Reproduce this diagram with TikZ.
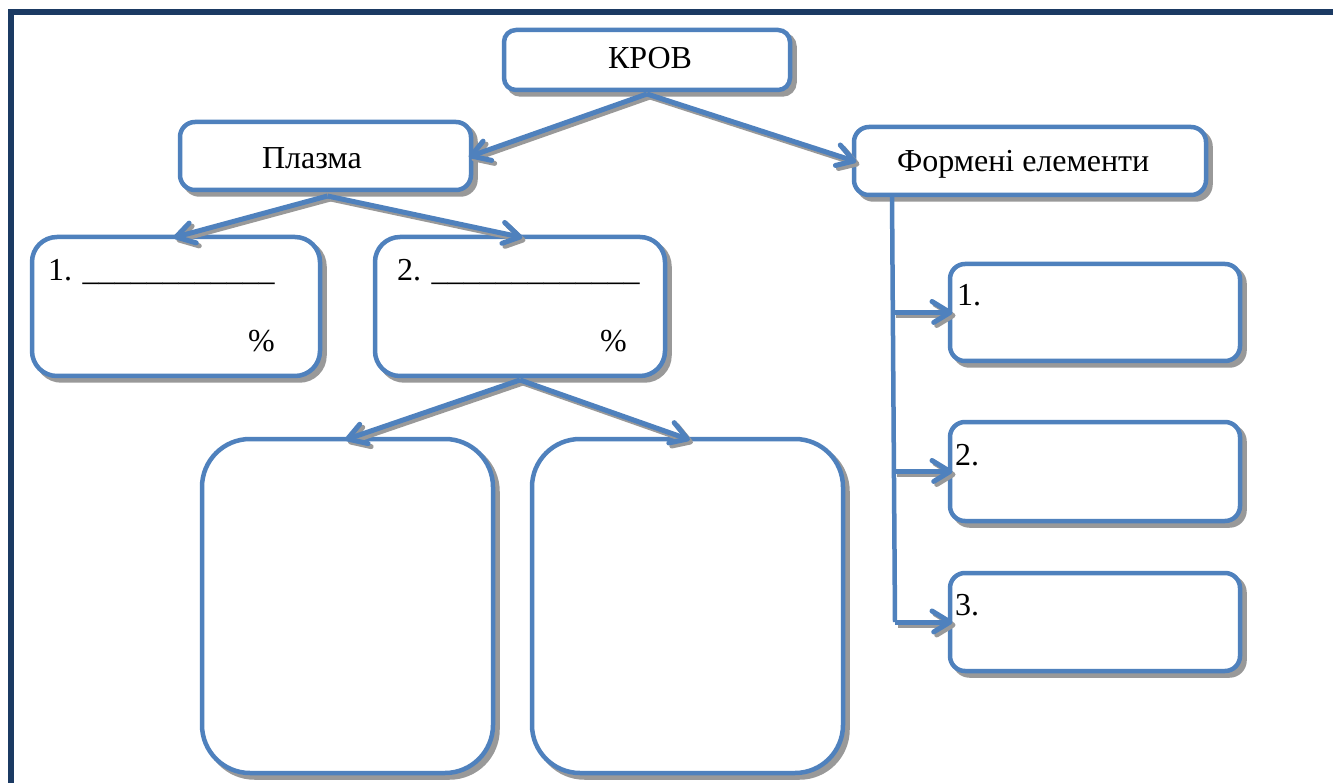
\documentclass[tikz,border=0pt]{standalone}
\usepackage{fontspec}
\setmainfont{Liberation Serif}
\usetikzlibrary{calc,decorations.markings}
\definecolor{boxblue}{HTML}{4F81BD}
\definecolor{shade}{HTML}{999999}
\definecolor{framecol}{HTML}{1B3A63}
\tikzset{
  box/.style={draw=boxblue, line width=4.5pt, fill=white, rounded corners=#1,
    inner sep=0pt, outer sep=0pt,
    preaction={draw=shade, fill=shade, transform canvas={xshift=4.5pt,yshift=-4.5pt}}},
  txt/.style={inner sep=0pt, outer sep=0pt, anchor=base west, text=black},
  chev/.style={postaction={decorate, decoration={markings,
     mark=at position 1 with {\draw[draw=#1, line width=5pt, line cap=round, line join=round]
       (-18pt,11pt) -- (0pt,0pt) -- (-18pt,-11pt);}}}},
  connline/.style={draw=#1, line width=5pt, shorten >=2pt, chev=#1},
  stem/.style={draw=boxblue, line width=4.5pt},
  frameline/.style={draw=framecol, line width=6pt}
}
\newcommand\myconn[2]{%
  \begin{scope}[transform canvas={xshift=3pt,yshift=-3pt}]
    \draw[connline=shade] (#1) -- (#2);
  \end{scope}
  \draw[connline=boxblue] (#1) -- (#2);}
\begin{document}
\begin{tikzpicture}[x=1pt,y=-1pt,font=\fontsize{32}{38}\selectfont]
\useasboundingbox (0,0) rectangle (1333,783);
\clip (0,0) rectangle (1333,783);
\fill[white] (0,0) rectangle (1333,783);
\draw[frameline] (11,800) -- (11,12) -- (1350,12);

% boxes
\node[box=12pt, minimum width=286pt, minimum height=60pt] (krov) at (647,60) {};
\node[box=15pt, minimum width=291pt, minimum height=68pt] (plazma) at (325.5,156) {};
\node[box=15pt, minimum width=352pt, minimum height=68pt] (form) at (1030,161) {};
\node[box=25pt, minimum width=288pt, minimum height=139pt] (b1) at (176,306.5) {};
\node[box=25pt, minimum width=290pt, minimum height=139pt] (b2) at (520,306.5) {};
\node[box=48pt, minimum width=291pt, minimum height=334pt] (ba) at (347.5,606) {};
\node[box=48pt, minimum width=311pt, minimum height=334pt] (bb) at (687.5,606) {};
\node[box=15pt, minimum width=290pt, minimum height=97pt] (r1) at (1095,312.5) {};
\node[box=15pt, minimum width=290pt, minimum height=99pt] (r2) at (1095,471.5) {};
\node[box=15pt, minimum width=290pt, minimum height=98pt] (r3) at (1095,622) {};

% texts
\node[txt] (tkrov) at (608,69) {КРОВ};
\node[txt] (tplazma) at (262,169) {Плазма};
\node[txt] (tform) at (897,172) {Формені елементи};
\node[txt] (tb1) at (48,281) {1. \_\_\_\_\_\_\_\_\_\_\_\_};
\node[txt] (pb1) at (248,352) {\%};
\node[txt] (tb2) at (397,281) {2. \_\_\_\_\_\_\_\_\_\_\_\_\_};
\node[txt] (pb2) at (600,352) {\%};
\node[txt] (tr1) at (957,306) {1.};
\node[txt] (tr2) at (955,465) {2.};
\node[txt] (tr3) at (955,615) {3.};

% connectors
\coordinate (ks) at ($(krov.south)+(0,4)$);
\myconn{ks}{plazma.east}
\myconn{ks}{form.west}
\coordinate (ps) at ($(plazma.south)+(2,6)$);
\myconn{ps}{b1.north}
\myconn{ps}{b2.north}
\coordinate (bs) at ($(b2.south)+(0,4)$);
\myconn{bs}{ba.north}
\myconn{bs}{bb.north}

\coordinate (fv) at ($(form.south west)+(38,0)$);
\coordinate (fv3) at ($(fv |- r3.west)+(3,0)$);
\draw[stem] (fv) -- (fv3);
\coordinate (fv1) at ($(fv |- r1.west)+(1,0)$);
\coordinate (fv2) at ($(fv |- r2.west)+(2,0)$);
\myconn{fv1}{r1.west}
\myconn{fv2}{r2.west}
\myconn{fv3}{r3.west}
\end{tikzpicture}
\end{document}
